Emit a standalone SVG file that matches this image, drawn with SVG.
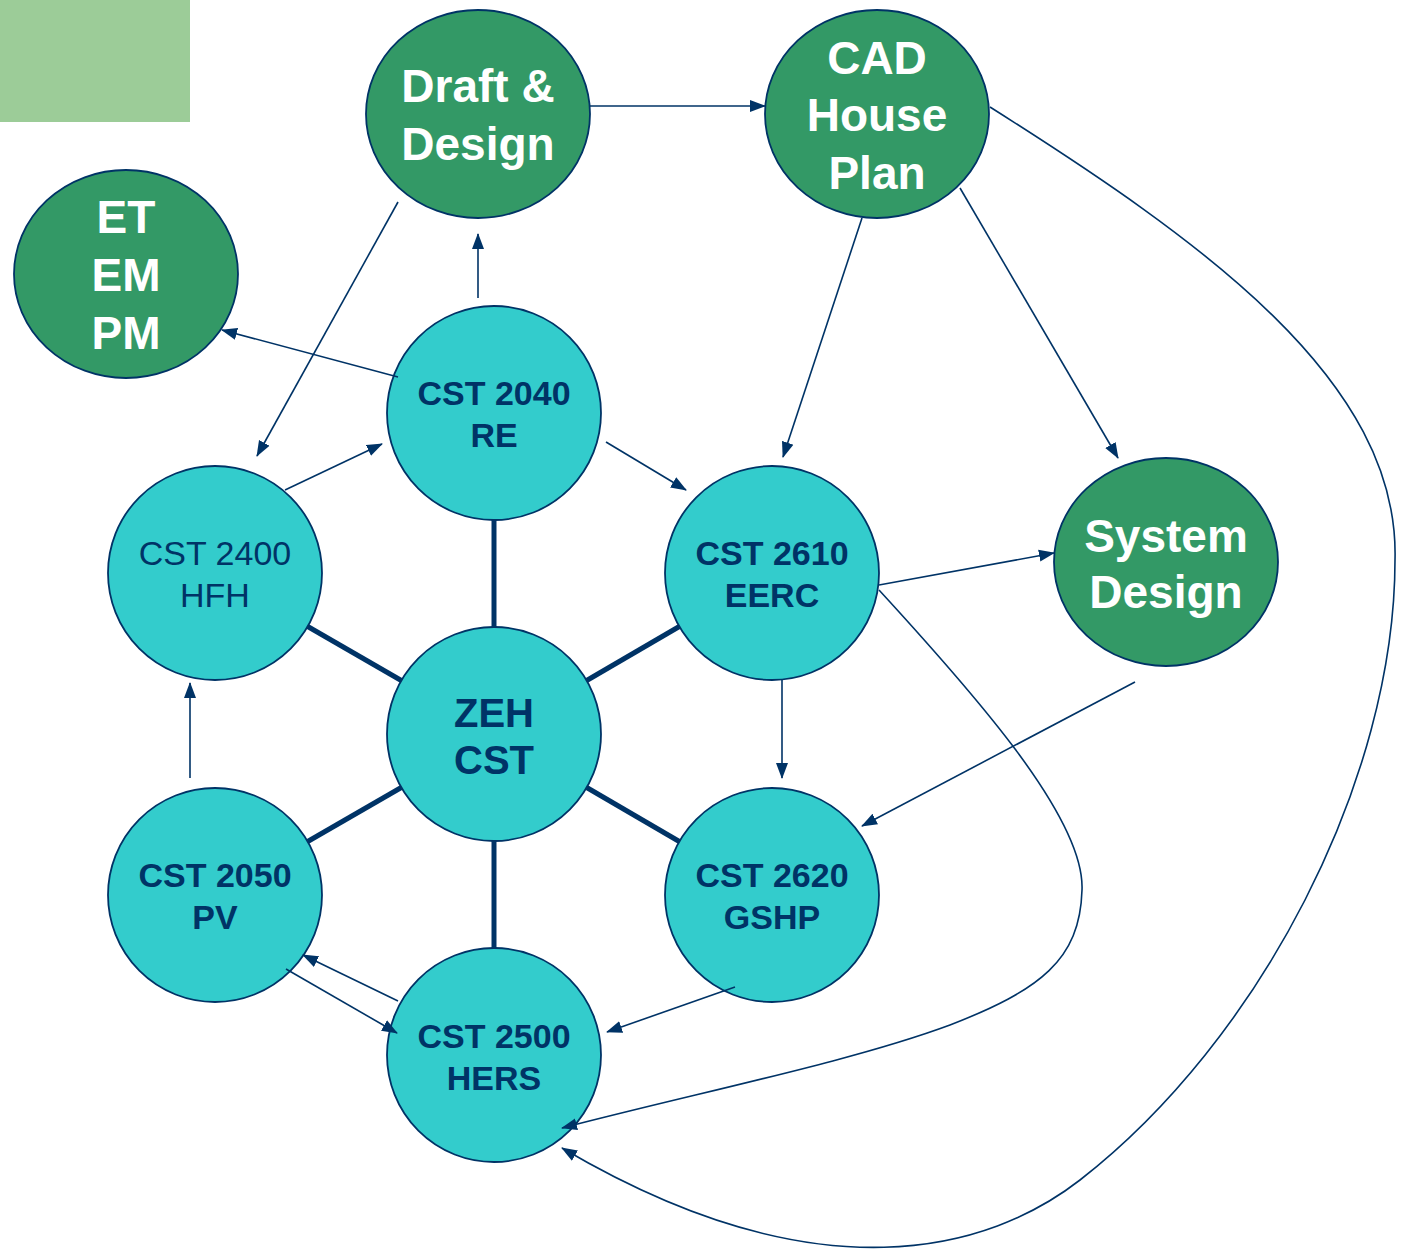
<svg xmlns="http://www.w3.org/2000/svg" width="1418" height="1258" viewBox="0 0 1418 1258">
<defs>
<style>
.g{fill:#339966;stroke:#003366;stroke-width:1.8}
.c{fill:#33cccc;stroke:#003366;stroke-width:1.8}
.wt{font-family:"Liberation Sans",Arial,sans-serif;font-weight:bold;font-size:46px;fill:#ffffff;text-anchor:middle}
.ct{font-family:"Liberation Sans",Arial,sans-serif;font-weight:bold;font-size:34px;fill:#003366;text-anchor:middle}
.cn{font-family:"Liberation Sans",Arial,sans-serif;font-size:34px;fill:#003366;text-anchor:middle}
.zt{font-family:"Liberation Sans",Arial,sans-serif;font-weight:bold;font-size:40px;fill:#003366;text-anchor:middle}
.a{fill:none;stroke:#003366;stroke-width:1.6;marker-end:url(#ah)}
.s{fill:none;stroke:#003366;stroke-width:5}
</style>
<marker id="ah" markerUnits="userSpaceOnUse" markerWidth="16" markerHeight="14" refX="15" refY="6" orient="auto" viewBox="0 0 16 12">
<path d="M0,0 L16,6 L0,12 Z" fill="#003366"/>
</marker>
</defs>
<rect x="0" y="0" width="1418" height="1258" fill="#ffffff"/>
<rect x="0" y="0" width="190" height="122" fill="#9ccc98"/>

<g id="nodes">
<g id="draft"><ellipse class="g" cx="478" cy="114" rx="112" ry="104"/><text class="wt" x="478" y="102">Draft &amp;</text><text class="wt" x="478" y="160">Design</text></g>
<g id="cad"><ellipse class="g" cx="877" cy="114" rx="112" ry="104"/><text class="wt" x="877" y="74">CAD</text><text class="wt" x="877" y="131">House</text><text class="wt" x="877" y="189">Plan</text></g>
<g id="et"><ellipse class="g" cx="126" cy="274" rx="112" ry="104"/><text class="wt" x="126" y="233">ET</text><text class="wt" x="126" y="291">EM</text><text class="wt" x="126" y="349">PM</text></g>
<g id="sysdesign"><ellipse class="g" cx="1166" cy="562" rx="112" ry="104"/><text class="wt" x="1166" y="552">System</text><text class="wt" x="1166" y="608">Design</text></g>
<g id="cst2040"><circle class="c" cx="494" cy="413" r="107"/><text class="ct" x="494" y="405">CST 2040</text><text class="ct" x="494" y="447">RE</text></g>
<g id="cst2400"><circle class="c" cx="215" cy="573" r="107"/><text class="cn" x="215" y="565">CST 2400</text><text class="cn" x="215" y="607">HFH</text></g>
<g id="cst2610"><circle class="c" cx="772" cy="573" r="107"/><text class="ct" x="772" y="565">CST 2610</text><text class="ct" x="772" y="607">EERC</text></g>
<g id="zeh"><circle class="c" cx="494" cy="734" r="107"/><text class="zt" x="494" y="727">ZEH</text><text class="zt" x="494" y="774">CST</text></g>
<g id="cst2050"><circle class="c" cx="215" cy="895" r="107"/><text class="ct" x="215" y="887">CST 2050</text><text class="ct" x="215" y="929">PV</text></g>
<g id="cst2620"><circle class="c" cx="772" cy="895" r="107"/><text class="ct" x="772" y="887">CST 2620</text><text class="ct" x="772" y="929">GSHP</text></g>
<g id="cst2500"><circle class="c" cx="494" cy="1055" r="107"/><text class="ct" x="494" y="1048">CST 2500</text><text class="ct" x="494" y="1090">HERS</text></g>
</g>

<g id="connectors">
<line class="s" x1="494" y1="520" x2="494" y2="627"/>
<line class="s" x1="307.7" y1="626.5" x2="401.3" y2="680.5"/>
<line class="s" x1="586.7" y1="680.5" x2="679.3" y2="626.5"/>
<line class="s" x1="307.7" y1="841.5" x2="401.3" y2="787.5"/>
<line class="s" x1="586.7" y1="787.5" x2="679.3" y2="841.5"/>
<line class="s" x1="494" y1="841" x2="494" y2="948"/>

<line class="a" x1="590" y1="106" x2="765" y2="106"/>
<line class="a" x1="398" y1="202" x2="257" y2="456"/>
<line class="a" x1="478" y1="298" x2="478" y2="234"/>
<line class="a" x1="398" y1="377" x2="222" y2="330"/>
<line class="a" x1="285" y1="490" x2="382" y2="444"/>
<line class="a" x1="606" y1="442" x2="686" y2="490"/>
<line class="a" x1="862" y1="218" x2="783" y2="457"/>
<line class="a" x1="960" y1="188" x2="1118" y2="458"/>
<line class="a" x1="879" y1="585" x2="1054" y2="553"/>
<line class="a" x1="782" y1="680" x2="782" y2="778"/>
<line class="a" x1="1135" y1="682" x2="862" y2="826"/>
<line class="a" x1="190" y1="778" x2="190" y2="683"/>
<line class="a" x1="398" y1="1001" x2="303" y2="955"/>
<line class="a" x1="286" y1="969" x2="397" y2="1033"/>
<line class="a" x1="735" y1="987" x2="607" y2="1032"/>
<path class="a" d="M879,590 C980,700 1085,820 1082,890 C1080,960 1040,990 950,1025 C850,1062 700,1092 562,1128"/>
<path class="a" d="M990,107 C1200,240 1400,380 1395,560 C1395,780 1260,1040 1080,1180 C990,1250 820,1300 562,1148"/>
</g>
</svg>
